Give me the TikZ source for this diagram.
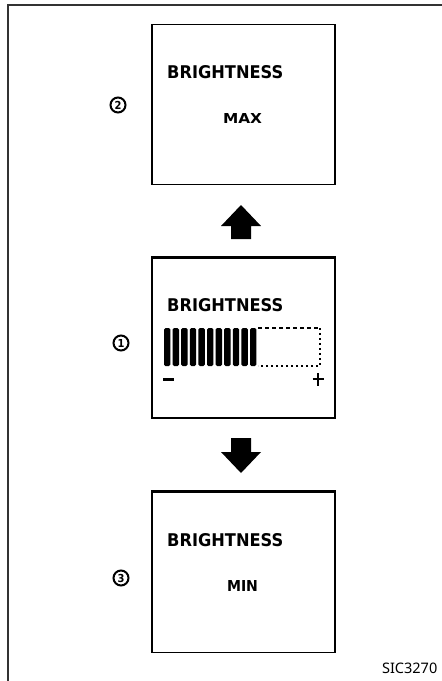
\documentclass[tikz,border=0pt]{standalone}
\usepackage{fontspec}
\setmainfont{DejaVu Sans}
\newfontfamily\lcdfont{DejaVu Sans Condensed}
\newfontfamily\labfont{Noto Sans}
\tikzset{
  screen/.style={draw=black, line width=1.8pt, minimum width=183pt, minimum height=160pt, inner sep=0pt},
  lcd/.style={inner sep=0pt, font=\lcdfont\bfseries},
  num/.style={circle, draw=black, line width=2pt, minimum size=15pt, inner sep=0pt,
    font=\lcdfont\bfseries\fontsize{11}{11}\selectfont},
  frameline/.style={draw=black!80, line width=1.4pt},
  bar/.style={fill=black, rounded corners=1.5pt},
  blockfill/.style={fill=black},
}
\begin{document}
\begin{tikzpicture}[x=1pt,y=1pt]
\useasboundingbox (0,0) rectangle (442,-681);
% frame
\coordinate (ftl) at (8,-5);
\coordinate (ftr) at (442,-5);
\coordinate (fbl) at (8,-681);
\draw[frameline] (ftr) -- (ftl) -- (fbl);

% screens
\node[screen] (s2) at (243.5,-104.5) {};
\node[screen] (s1) at (243.5,-338) {};
\node[screen] (s3) at (243.5,-572.5) {};
\draw[line width=3pt] (s1.north west) -- (s1.north east);
\draw[line width=3pt] (s3.north west) -- (s3.north east);

% labels
\node[num] (n2) at (118,-105) {2};
\node[num] (n1) at (121,-343) {1};
\node[num] (n3) at (121,-578) {3};

% texts
\node[lcd, anchor=west] (b2) at (167,-72) {\resizebox{116pt}{13pt}{BRIGHTNESS}};
\node[lcd] (max) at (242.5,-118) {\resizebox{39pt}{10pt}{MAX}};
\node[lcd, anchor=west] (b1) at (167,-305) {\resizebox{116pt}{13pt}{BRIGHTNESS}};
\node[lcd, anchor=west] (b3) at (167,-540) {\resizebox{116pt}{13pt}{BRIGHTNESS}};
\node[lcd] (min) at (242.5,-586) {\resizebox{31pt}{11pt}{MIN}};

% bar graph
\foreach \i in {0,...,10} {
  \fill[bar] (164+\i*8.6,-328) rectangle (164+\i*8.6+6.4,-366);
}
\coordinate (bt) at (258,-328);
\coordinate (btr) at (320,-328);
\coordinate (bbr) at (320,-366);
\coordinate (bb) at (258,-366);
\draw[line width=1.6pt, dash pattern=on 4pt off 3pt] (bt) -- (btr);
\draw[line width=1.6pt, dash pattern=on 2pt off 3pt] (btr) -- (bbr) -- (bb);
\coordinate (minus) at (168.5,-379);
\fill (163,-377.5) rectangle (174,-380.5);
\coordinate (plus) at (318,-379);
\draw[line width=1.5pt] (312.5,-379) -- (323.5,-379) (318,-373) -- (318,-385.5);

% arrows
\coordinate (up) at (241,-205);
\fill[blockfill] (up) -- (261,-226) -- (251,-226) -- (251,-239) -- (231,-239) -- (231,-226) -- (221,-226) -- cycle;
\coordinate (down) at (241,-473);
\fill[blockfill] (down) -- (261,-452) -- (251,-452) -- (251,-438) -- (231,-438) -- (231,-452) -- (221,-452) -- cycle;

% code
\node[inner sep=0pt, anchor=east, font=\labfont\fontsize{14.5}{14.5}\selectfont] (code) at (437.5,-668) {SIC3270};
\end{tikzpicture}
\end{document}
